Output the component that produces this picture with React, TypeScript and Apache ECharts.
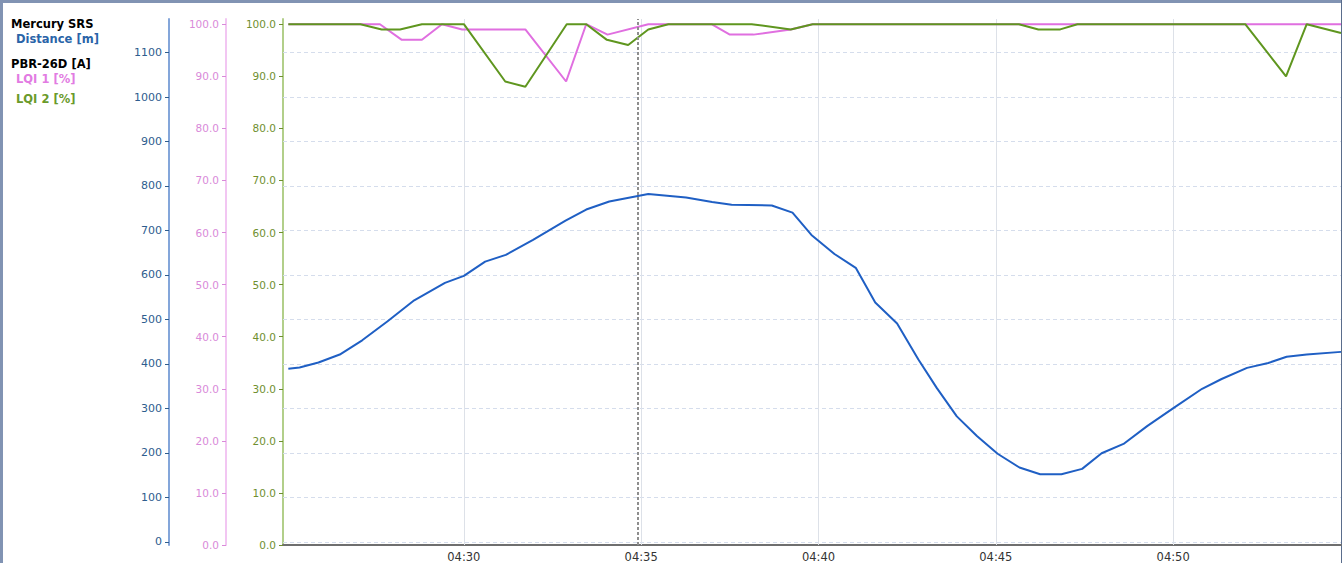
import React, { useEffect, useRef } from 'react';
import * as echarts from 'echarts';

const toSec = (s: string) => {
  const [h, m, sec] = s.split(':').map(Number);
  return h * 3600 + m * 60 + sec;
};
const fmtHM = (v: number) => {
  const h = Math.floor(v / 3600);
  const m = Math.round((v % 3600) / 60);
  return `${String(h).padStart(2, '0')}:${String(m).padStart(2, '0')}`;
};

// ---- data ----
const xStart = '04:24:54';
const xEnd = '04:54:44';
const cursorTime = '04:34:54';
const timeTickLabels = ['04:30:00', '04:35:00', '04:40:00', '04:45:00', '04:50:00'];
const distanceTicks = [0, 100, 200, 300, 400, 500, 600, 700, 800, 900, 1000, 1100];
const lqiTicks = [0, 10, 20, 30, 40, 50, 60, 70, 80, 90, 100];

const distanceTimes = [
  '04:25:03', '04:25:22', '04:25:54', '04:26:30', '04:27:08', '04:27:51', '04:28:36', '04:29:28', '04:30:00', '04:30:36',
  '04:31:11', '04:31:57', '04:32:52', '04:33:27', '04:34:06', '04:35:12', '04:36:16', '04:37:00', '04:37:33', '04:38:41',
  '04:39:16', '04:39:48', '04:40:27', '04:41:03', '04:41:36', '04:42:13', '04:42:49', '04:43:20', '04:43:54', '04:44:28',
  '04:45:03', '04:45:40', '04:46:15', '04:46:51', '04:47:26', '04:47:59', '04:48:36', '04:49:16', '04:50:01', '04:50:49',
  '04:51:22', '04:52:05', '04:52:41', '04:53:12', '04:53:46', '04:54:44',
];
const distanceValues = [
  389, 392, 403, 421, 453, 496, 543, 582, 598, 630,
  645, 679, 722, 747, 765, 782, 774, 764, 758, 756,
  740, 690, 647, 616, 538, 491, 410, 346, 282, 238,
  198, 167, 152, 152, 164, 199, 220, 260, 301, 344,
  366, 391, 402, 416, 421, 427,
];

const lqi1Times = [
  '04:25:03', '04:27:38', '04:28:15', '04:28:49', '04:29:23', '04:29:57', '04:31:44', '04:32:53', '04:33:27', '04:34:03',
  '04:35:12', '04:36:59', '04:37:30', '04:38:10', '04:39:13', '04:39:50', '04:54:44',
];
const lqi1Values = [100, 100, 97, 97, 100, 99, 99, 89, 100, 98, 100, 100, 98, 98, 99, 100, 100];

const lqi2Times = [
  '04:25:03', '04:27:05', '04:27:41', '04:28:12', '04:28:49', '04:30:00', '04:31:10', '04:31:44', '04:32:54', '04:33:27',
  '04:34:02', '04:34:38', '04:35:12', '04:35:46', '04:38:07', '04:39:13', '04:39:50', '04:45:39', '04:46:12', '04:46:49',
  '04:47:18', '04:52:02', '04:53:11', '04:53:46', '04:54:44',
];
const lqi2Values = [
  100, 100, 99, 99, 100, 100, 89, 88, 100, 100,
  97, 96, 99, 100, 100, 99, 100, 100, 99, 99,
  100, 100, 90, 100, 98.3,
];

const legendTexts = ['Mercury SRS', 'Distance [m]', 'PBR-26D [A]', 'LQI 1 [%]', 'LQI 2 [%]'];

const FONT = '"DejaVu Sans", Verdana, sans-serif';
const BLUE = '#1f5fc4';
const PINK = '#e06fe0';
const GREEN = '#5f961f';

const zip = (t: string[], v: number[]) => t.map((s, i) => [toSec(s), v[i]]);

export default function App() {
  const ref = useRef<HTMLDivElement>(null);
  useEffect(() => {
    if (!ref.current) return;
    const chart = echarts.init(ref.current, undefined, { renderer: 'svg' });
    const timeTickValues = timeTickLabels.map(toSec);

    const yAxisBase = (offset: number, lineColor: string, labelColor: string, ticks: number[], min: number, max: number, fmt: (v: number) => string, fontSize: number) => ({
      type: 'value',
      position: 'left',
      offset,
      min,
      max,
      axisLine: { show: true, onZero: false, lineStyle: { color: lineColor, width: 2 } },
      axisTick: { show: true, length: 4, customValues: ticks, lineStyle: { color: labelColor, width: 1 } },
      axisLabel: { customValues: ticks, formatter: fmt, color: labelColor, fontFamily: FONT, fontSize, margin: 7 },
      splitLine: { show: false },
    });

    const legendStyles = [
      { x: 11, y: 24, color: '#000000' },
      { x: 16, y: 38.5, color: '#2a64a8' },
      { x: 11, y: 63.5, color: '#000000' },
      { x: 16, y: 78.5, color: '#e27be2' },
      { x: 16, y: 98.5, color: '#6a9a2a' },
    ];

    chart.setOption({
      animation: false,
      backgroundColor: '#ffffff',
      grid: { left: 283, right: 1, top: 19, bottom: 17, containLabel: false },
      xAxis: {
        type: 'value',
        min: toSec(xStart),
        max: toSec(xEnd),
        axisLine: { show: true, onZero: false, lineStyle: { color: '#6f6f6f', width: 2 } },
        axisTick: { show: true, inside: true, length: 4, customValues: timeTickValues, lineStyle: { color: '#555555', width: 1 } },
        axisLabel: { customValues: timeTickValues, formatter: (v: number) => fmtHM(v), color: '#333333', fontFamily: FONT, fontSize: 11.5, margin: 6 },
        splitLine: { show: false },
      },
      yAxis: [
        yAxisBase(0, '#b2cf8a', '#6f8f2f', lqiTicks, 0, 101, (v: number) => v.toFixed(1), 10.5),
        yAxisBase(57, '#f2c6f2', '#d98ad9', lqiTicks, 0, 101, (v: number) => v.toFixed(1), 10.5),
        yAxisBase(114, '#84a6da', '#2e5d8e', distanceTicks, -7.2, 1175.4, (v: number) => String(v), 11),
      ],
      graphic: [
        { type: 'rect', shape: { x: 0, y: 0, width: 1342, height: 3 }, style: { fill: '#8193b3' }, silent: true },
        { type: 'rect', shape: { x: 0, y: 0, width: 3, height: 563 }, style: { fill: '#8193b3' }, silent: true },
        { type: 'rect', shape: { x: 1341, y: 0, width: 1, height: 563 }, style: { fill: '#5a6d8c' }, silent: true },
        ...legendTexts.map((t, i) => ({
          type: 'text',
          x: legendStyles[i].x,
          y: legendStyles[i].y,
          silent: true,
          style: { text: t, fill: legendStyles[i].color, font: `bold 11.5px ${FONT}`, verticalAlign: 'middle', align: 'left' },
        })),
      ],
      series: [
        {
          name: 'Distance [m]',
          type: 'line',
          xAxisIndex: 0,
          yAxisIndex: 2,
          showSymbol: false,
          symbol: 'none',
          lineStyle: { color: BLUE, width: 2 },
          itemStyle: { color: BLUE },
          data: zip(distanceTimes, distanceValues),
          markLine: {
            silent: true,
            symbol: 'none',
            z: 1,
            label: { show: false },
            animation: false,
            data: [
              ...distanceTicks.map((v) => ({ yAxis: v, lineStyle: { color: '#d5ddec', type: [4, 3], width: 1 } })),
              ...timeTickValues.map((v) => ({ xAxis: v, lineStyle: { color: '#dde1e8', type: 'solid', width: 1 } })),
            ],
          },
        },
        {
          name: 'LQI 1 [%]',
          type: 'line',
          xAxisIndex: 0,
          yAxisIndex: 1,
          showSymbol: false,
          symbol: 'none',
          lineStyle: { color: PINK, width: 2 },
          itemStyle: { color: PINK },
          data: zip(lqi1Times, lqi1Values),
        },
        {
          name: 'LQI 2 [%]',
          type: 'line',
          xAxisIndex: 0,
          yAxisIndex: 0,
          showSymbol: false,
          symbol: 'none',
          lineStyle: { color: GREEN, width: 2 },
          itemStyle: { color: GREEN },
          data: zip(lqi2Times, lqi2Values),
          markLine: {
            silent: true,
            symbol: 'none',
            label: { show: false },
            animation: false,
            data: [{ xAxis: toSec(cursorTime), lineStyle: { color: '#8e8e8e', type: [3, 2], width: 2 } }],
          },
        },
      ],
    });
    return () => chart.dispose();
  }, []);
  return <div ref={ref} style={{ position: 'fixed', left: 0, top: 0, width: 1342, height: 563 }} />;
}
